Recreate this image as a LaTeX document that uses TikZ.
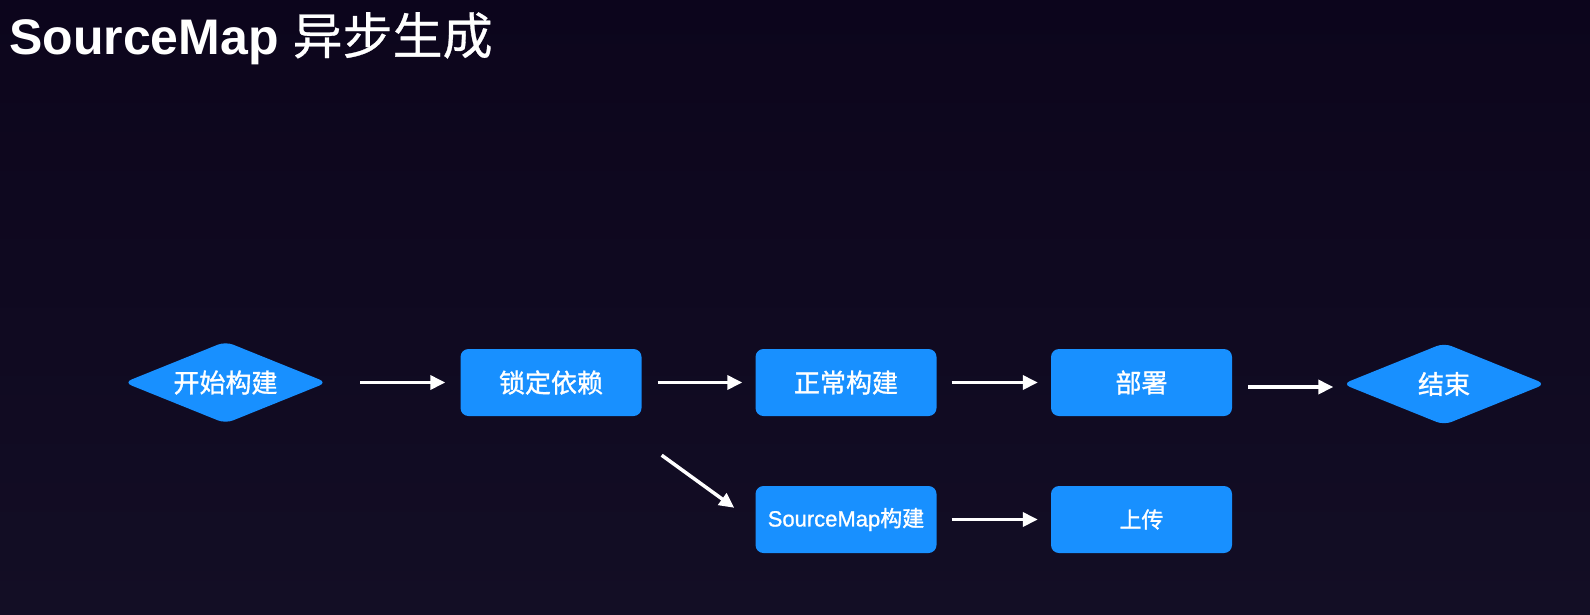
\documentclass[tikz,border=0pt]{standalone}
\usepackage{fontspec}
\setmainfont{Liberation Sans}
\newfontfamily\cjk[FakeBold=1.2]{Noto Sans CJK SC}
\newfontfamily\cjktitle[FakeBold=0.6]{Noto Sans CJK SC}
\newfontfamily\latin[FakeBold=1]{Liberation Sans}
\usepackage{tikz}
\usetikzlibrary{shapes.geometric,arrows.meta}
\definecolor{bgtop}{HTML}{0C051C}
\definecolor{bgbot}{HTML}{130E25}
\definecolor{antblue}{HTML}{1890FF}

\begin{document}
\begin{tikzpicture}[x=1pt,y=1pt,
   stepbox/.style={rectangle,fill=antblue,rounded corners=8pt,minimum width=181pt,minimum height=67pt,inner sep=0pt,text=white,font=\cjk\fontsize{26}{30}\selectfont},
   endbox/.style={diamond,fill=antblue,rounded corners=8pt,aspect=2.5,minimum width=203pt,minimum height=82pt,inner sep=0pt,text=white,font=\cjk\fontsize{26}{30}\selectfont},
   flow/.style={white,line width=3.5pt,-{Triangle[length=15pt,width=14pt]}}]
\shade[top color=bgtop,bottom color=bgbot] (0,0) rectangle (1590,-614);
\useasboundingbox (0,0) rectangle (1590,-614);
\node[anchor=north west,text=white,inner sep=0pt] (title) at (9,-12)
   {\fontsize{50}{56}\selectfont\bfseries SourceMap {\cjktitle\mdseries 异步生成}};
% main row
\node[endbox] (start) at (225.5,-382.5) {开始构建};
\node[stepbox] (lock) at (551,-382.5) {锁定依赖};
\node[stepbox] (build) at (846,-382.5) {正常构建};
\node[stepbox] (deploy) at (1141.5,-382.5) {部署};
\node[endbox] (finish) at (1444,-384) {结束};
% sourcemap row
\node[stepbox,font=\latin\fontsize{22}{26}\selectfont] (smap) at (846,-519.5) {SourceMap{\cjk 构建}};
\node[stepbox,font=\cjk\fontsize{22}{26}\selectfont] (upload) at (1141.5,-519.5) {上传};
\draw[flow,shorten >=15pt,shorten <=33pt] (start) -- (lock);
\draw[flow,shorten >=13pt,shorten <=16pt] (lock) -- (build);
\draw[flow,shorten >=13pt,shorten <=15pt] (build) -- (deploy);
\draw[flow,shorten >=9pt,shorten <=16pt] ([yshift=-4.5pt]deploy.east) -- ([yshift=-3pt]finish.west);
\draw[flow] ([xshift=20pt,yshift=-39pt]lock.south east) -- ([xshift=-21pt,yshift=-22pt]smap.north west);
\draw[flow,shorten >=13pt,shorten <=15pt] (smap) -- (upload);
\end{tikzpicture}
\end{document}
